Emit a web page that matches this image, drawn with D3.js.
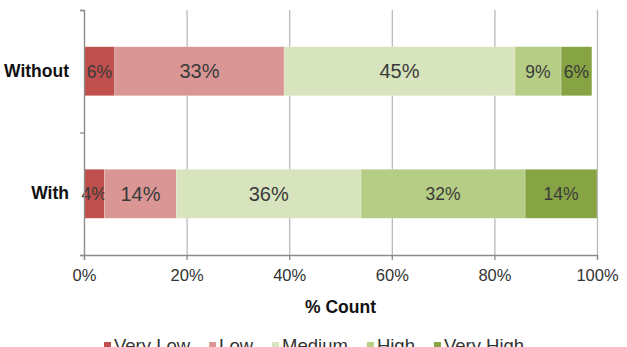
<!DOCTYPE html>
<!-- stacked 100% bar: rating counts with / without -->
<html>
<head>
<meta charset="utf-8">
<style>
  body { margin: 0; background: #fff; }
  svg { font-family: "Liberation Sans", Arial, sans-serif; }
</style>
</head>
<body>
<div id="chart_div"></div>

<script src="https://d3js.org/d3.v7.min.js"></script>

<script>

// data
let categories = ["Without", "With"];
let series = ["Very Low", "Low", "Medium", "High", "Very High"];
let without_values = [6, 33, 45, 9, 6];
let with_values = [4, 14, 36, 32, 14];
let x_ticks = [0, 20, 40, 60, 80, 100];

// styles
let colors = ["#c0504d", "#d99694", "#d7e4bd", "#b5cd85", "#86a443"];
let label_size = {"Very Low": 17.5, "Low": 20, "Medium": 20, "High": 17.5, "Very High": 17.5};

let width = 627, height = 347;
let plot = {left: 84, right: 597, top: 10, bottom: 255};

let svg = d3.select("#chart_div")
  .append("svg")
    .attr("width", width)
    .attr("height", height);

svg.append("rect")
  .attr("width", width)
  .attr("height", height)
  .attr("fill", "#fff");

// scales
let x = d3.scaleLinear()
  .domain([0, 100])
  .range([plot.left, plot.right]);

let y = d3.scaleBand()
  .domain(categories)
  .range([plot.top, plot.bottom])
  .paddingInner(0.6)
  .paddingOuter(0.3);

// category edges for the left axis ticks
let y_edge = d3.scaleLinear()
  .domain([0, categories.length])
  .range([plot.bottom, plot.top]);

// gridlines
let grid = svg.append("g")
  .attr("transform", "translate(0," + plot.bottom + ")")
  .call(d3.axisBottom(x).tickValues(x_ticks).tickSize(-(plot.bottom - plot.top)).tickFormat(""));
grid.select(".domain").remove();
grid.selectAll("line").attr("stroke", "#b4b4b4").attr("stroke-width", 1.2);

// stacked data
let rows = categories.map(function(c, i) {
  let vals = i == 0 ? without_values : with_values;
  let row = {category: c};
  series.forEach(function(s, j) { row[s] = vals[j]; });
  return row;
});
let stacked = d3.stack().keys(series)(rows);

let layers = svg.append("g")
  .selectAll("g")
  .data(stacked)
  .enter()
  .append("g")
    .attr("fill", function(d, i) { return colors[i]; });

layers.selectAll("rect")
  .data(function(d) { return d; })
  .enter()
  .append("rect")
    .attr("x", function(d) { return x(d[0]); })
    .attr("y", function(d) { return y(d.data.category); })
    .attr("width", function(d) { return x(d[1]) - x(d[0]); })
    .attr("height", y.bandwidth())
    .attr("stroke", "#ffffff")
    .attr("stroke-opacity", 0.35)
    .attr("stroke-width", 0.6);

// segment labels
layers.each(function(layer) {
  d3.select(this).selectAll("text")
    .data(layer)
    .enter()
    .append("text")
      .attr("x", function(d) { return (x(d[0]) + x(d[1])) / 2; })
      .attr("y", function(d) { return y(d.data.category) + y.bandwidth() / 2; })
      .attr("dy", "0.36em")
      .attr("text-anchor", "middle")
      .attr("font-size", label_size[layer.key])
      .attr("fill", "#3a3a3a")
      .text(function(d) { return (d[1] - d[0]) + "%"; });
});

// x axis
let x_axis = svg.append("g")
  .attr("transform", "translate(0," + plot.bottom + ")")
  .call(d3.axisBottom(x).tickValues(x_ticks).tickSize(5).tickPadding(9).tickFormat(function(d) { return d + "%"; }));
x_axis.select(".domain").attr("stroke", "#8c8c8c").attr("stroke-width", 1.3);
x_axis.selectAll("line").attr("stroke", "#8c8c8c").attr("stroke-width", 1.3);
x_axis.selectAll("text")
  .attr("font-size", 16.5)
  .attr("fill", "#333")
  .attr("font-family", "Liberation Sans, Arial, sans-serif");

// y axis line and ticks between categories
let y_axis = svg.append("g")
  .attr("transform", "translate(" + plot.left + ",0)")
  .call(d3.axisLeft(y_edge).ticks(categories.length).tickSize(4).tickFormat(""));
y_axis.select(".domain").attr("stroke", "#8c8c8c").attr("stroke-width", 1.3);
y_axis.selectAll("line").attr("stroke", "#8c8c8c").attr("stroke-width", 1.3);

// category labels
let y_labels = svg.append("g")
  .attr("transform", "translate(" + (plot.left - 15) + ",0)")
  .call(d3.axisLeft(y).tickSize(0).tickPadding(0));
y_labels.select(".domain").remove();
y_labels.selectAll("text")
  .attr("font-size", 17.5)
  .attr("font-weight", "bold")
  .attr("fill", "#111")
  .attr("font-family", "Liberation Sans, Arial, sans-serif");

// x title
svg.append("text")
  .attr("x", (plot.left + plot.right) / 2)
  .attr("y", 313)
  .attr("text-anchor", "middle")
  .attr("font-size", 17.5)
  .attr("font-weight", "bold")
  .attr("fill", "#111")
  .text("% Count");

// legend
let legend = svg.append("g");
let lx = 104;
series.forEach(function(s, i) {
  legend.append("rect")
    .attr("x", lx)
    .attr("y", 342)
    .attr("width", 7)
    .attr("height", 7)
    .attr("fill", colors[i]);
  let t = legend.append("text")
    .attr("x", lx + 10)
    .attr("y", 352)
    .attr("font-size", 18.5)
    .attr("fill", "#333")
    .text(s);
  lx += 10 + t.node().getComputedTextLength() + 19;
});

</script>
</body>
</html>
